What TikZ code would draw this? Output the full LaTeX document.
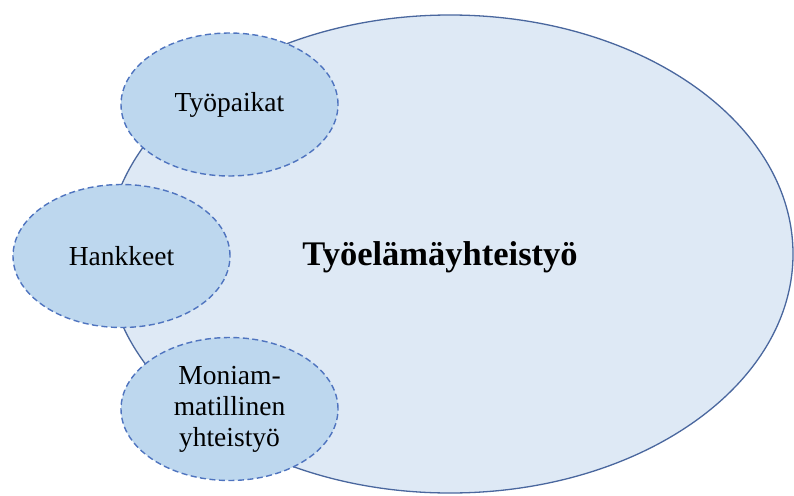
\documentclass[tikz,border=0pt]{standalone}
\usepackage{fontspec}
\setmainfont{Liberation Serif}
\usepackage{tikz}
\usetikzlibrary{shapes.geometric}
\usetikzlibrary{positioning}

\definecolor{bigfill}{HTML}{DEE9F5}
\definecolor{bigline}{HTML}{4A679E}
\definecolor{smallfill}{HTML}{BDD7EE}
\definecolor{smallline}{HTML}{4F74BF}

\begin{document}
\begin{tikzpicture}[x=1pt, y=-1pt,
		bigoval/.style={ellipse, draw=bigline, fill=bigfill, line width=1.3pt,
			minimum width=686pt, minimum height=478pt, inner sep=0pt},
		partoval/.style={ellipse, draw=smallline, fill=smallfill, line width=1.4pt,
			dash pattern=on 6pt off 3.5pt, minimum width=217pt, minimum height=143pt,
			inner sep=0pt, align=center, font=\fontsize{27.5}{31}\selectfont},
		titletext/.style={font=\fontsize{34.5}{40}\selectfont\bfseries}]
		\useasboundingbox (0,0) rectangle (794,495);
		% iso soikio
		\node [bigoval] (tyoelama) at (450, 254) {};
		\node [titletext] (otsikko) at (440, 257) {Työelämäyhteistyö};
		% pienet soikiot
		\node [partoval] (tyopaikat) at (229.5, 104.5) {Työpaikat};
		\node [partoval] (hankkeet) at (121.5, 256) {Hankkeet};
		\node [partoval] (moniam) at (229.5, 409) {Moniam-\\matillinen\\yhteistyö};
\end{tikzpicture}
\end{document}
